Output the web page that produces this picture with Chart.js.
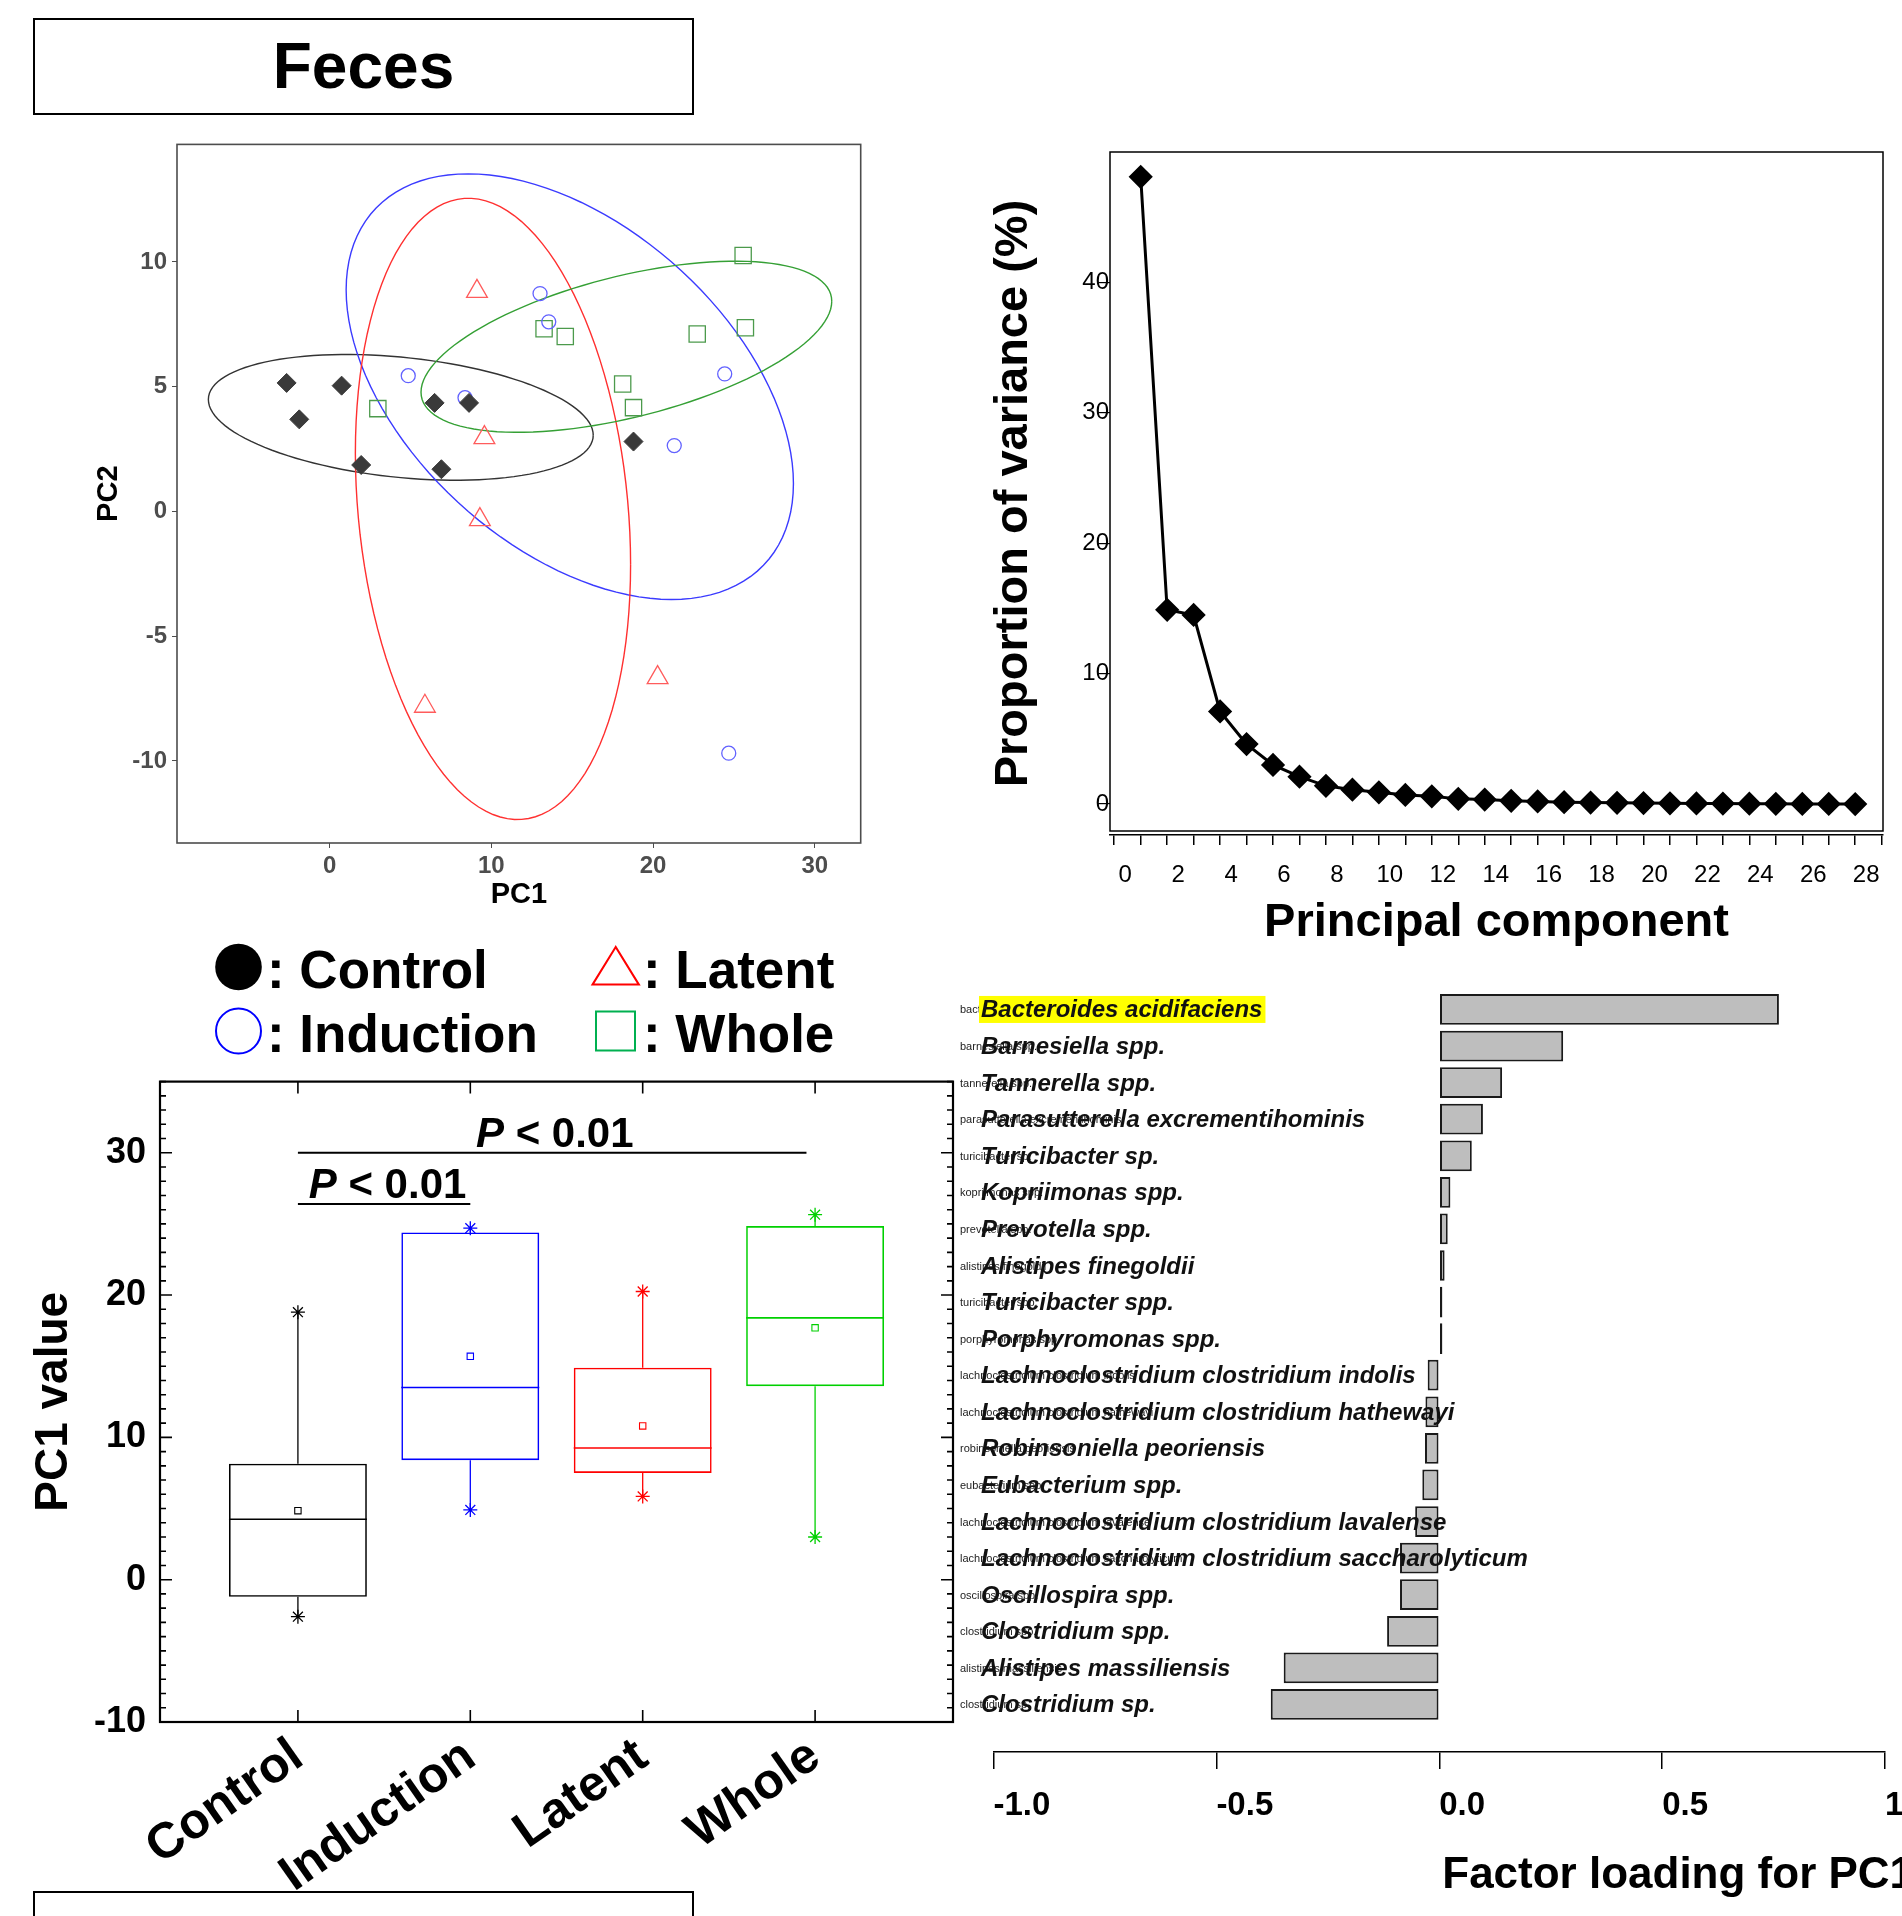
<!DOCTYPE html>
<html>
<head>
<meta charset="utf-8">
<script src="https://cdn.jsdelivr.net/npm/chart.js@4.4.1/dist/chart.umd.min.js"></script>
<style>
html,body{margin:0;padding:0;background:#fff;}
body{width:1902px;height:1916px;overflow:hidden;position:relative;font-family:'Liberation Sans',Arial,sans-serif;}
canvas{position:absolute;}
.frame{position:absolute;border:2px solid #000;box-sizing:border-box;}
</style>
</head>
<body>
<div class="frame" style="left:33px;top:18px;width:661px;height:97px;">
  <div style="font-weight:bold;font-size:64px;text-align:center;line-height:93px;">Feces</div>
</div>
<div class="frame" style="left:33px;top:1891px;width:661px;height:60px;"></div>

<canvas id="pca" width="786" height="791" style="left:88px;top:125px;"></canvas>
<canvas id="scree" width="916" height="816" style="left:982px;top:139px;"></canvas>
<canvas id="box" width="940" height="870" style="left:23px;top:1046px;"></canvas>
<canvas id="load" width="1000" height="938" style="left:955px;top:978px;"></canvas>

<svg style="position:absolute;left:150px;top:930px;" width="720" height="140">
  <g transform="translate(-150,-930)" font-family="'Liberation Sans',Arial,sans-serif" font-weight="bold" font-size="53">
    <circle cx="238.5" cy="967" r="23.3" fill="#000"/>
    <text x="267" y="988">: Control</text>
    <circle cx="238.5" cy="1031" r="22.5" fill="none" stroke="#0000ff" stroke-width="2"/>
    <text x="267" y="1052">: Induction</text>
    <polygon points="615.7,947 592.5,984.6 638.9,984.6" fill="none" stroke="#ff0000" stroke-width="2"/>
    <text x="643" y="988">: Latent</text>
    <rect x="596" y="1011.5" width="39" height="39" fill="none" stroke="#00b050" stroke-width="2"/>
    <text x="643" y="1052">: Whole</text>
  </g>
</svg>

<script>
Chart.defaults.font.family = "'Liberation Sans', Arial, sans-serif";
Chart.defaults.color = '#000';

// ---- PCA score plot
const ctrlX = [-2.66, 0.74, -1.88, 6.49, 8.62, 1.95, 6.91, 18.79];
const ctrlY = [5.15, 5.04, 3.69, 4.35, 4.35, 1.86, 1.69, 2.80];
const indX = [4.86, 13.01, 13.55, 8.37, 24.43, 21.31, 24.68];
const indY = [5.44, 8.73, 7.60, 4.56, 5.51, 2.64, -9.69];
const latX = [9.11, 9.57, 9.29, 5.89, 20.28];
const latY = [8.82, 2.96, -0.33, -7.81, -6.66];
const wholeX = [25.57, 13.26, 14.57, 22.73, 25.71, 18.12, 18.79, 2.98];
const wholeY = [10.26, 7.32, 7.01, 7.11, 7.36, 5.11, 4.16, 4.12];
const pcaXTicks = [0, 10, 20, 30];
const pcaYTicks = [-10, -5, 0, 5, 10];

// 95% ellipses: centre, half width, half height, x-y cross term
const ellCx = [4.4, 14.85, 10.1, 18.35];
const ellCy = [3.77, 5.0, 0.1, 6.6];
const ellW = [11.9, 13.83, 8.51, 12.7];
const ellH = [2.52, 8.53, 12.45, 3.43];
const ellC = [-8.5, -53.7, -19, 23.1];
const ellColors = ['#333333', '#3b3bff', '#ff3030', '#35a035'];

// ---- scree plot
const pcIndex = [1,2,3,4,5,6,7,8,9,10,11,12,13,14,15,16,17,18,19,20,21,22,23,24,25,26,27,28];
const pcVariance = [48.1, 14.9, 14.5, 7.1, 4.6, 3.0, 2.1, 1.4, 1.1, 0.9, 0.7, 0.6, 0.4, 0.35,
                    0.25, 0.2, 0.15, 0.12, 0.1, 0.08, 0.06, 0.05, 0.04, 0.03, 0.02, 0.01, 0.01, 0.0];
const screeYTicks = [0, 10, 20, 30, 40];

// ---- PC1 box plot
const boxGroups = ['Control', 'Induction', 'Latent', 'Whole'];
const boxMin  = [-2.6, 4.9, 5.85, 3.0];
const boxQ1   = [-1.2, 8.4, 7.5, 13.6];
const boxMed  = [4.25, 13.5, 9.25, 18.4];
const boxQ3   = [8.15, 24.4, 14.9, 24.85];
const boxMax  = [18.8, 24.7, 20.25, 25.65];
const boxMean = [4.85, 15.7, 10.8, 17.7];
const boxColors = ['#000000', '#0000ff', '#ff0000', '#00d000'];
const boxYTicks = [-10, 0, 10, 20, 30];
const sigFrom = [0, 0];
const sigTo = [2.95, 1];
const sigY = [30.0, 26.4];
const sigTextX = [1.49, 0.52];

// ---- factor loadings for PC1
const taxaTags = ['bacteroides acidifaciens', 'barnesiella spp.', 'tannerella spp.', 'parasutterella excrementihominis',
  'turicibacter sp.', 'kopriimonas spp.', 'prevotella spp.', 'alistipes finegoldii', 'turicibacter spp.',
  'porphyromonas spp.', 'lachnoclostridium clostridium indolis', 'lachnoclostridium clostridium hathewayi',
  'robinsoniella peoriensis', 'eubacterium spp.', 'lachnoclostridium clostridium lavalense',
  'lachnoclostridium clostridium saccharolyticum', 'oscillospira spp.', 'clostridium spp.',
  'alistipes massiliensis', 'clostridium sp.'];
const taxaNames = ['Bacteroides acidifaciens', 'Barnesiella spp.', 'Tannerella spp.', 'Parasutterella excrementihominis',
  'Turicibacter sp.', 'Kopriimonas spp.', 'Prevotella spp.', 'Alistipes finegoldii', 'Turicibacter spp.',
  'Porphyromonas spp.', 'Lachnoclostridium clostridium indolis', 'Lachnoclostridium clostridium hathewayi',
  'Robinsoniella peoriensis', 'Eubacterium spp.', 'Lachnoclostridium clostridium lavalense',
  'Lachnoclostridium clostridium saccharolyticum', 'Oscillospira spp.', 'Clostridium spp.',
  'Alistipes massiliensis', 'Clostridium sp.'];
const loadings = [0.762, 0.278, 0.141, 0.098, 0.073, 0.025, 0.019, 0.012, 0.007, 0.007,
                  -0.026, -0.031, -0.032, -0.038, -0.054, -0.088, -0.088, -0.117, -0.349, -0.378];
const highlightTaxon = 'Bacteroides acidifaciens';
const loadTicks = [-1, -0.5, 0, 0.5, 1];

const FONT = "'Liberation Sans', Arial, sans-serif";
const pts = (xs, ys) => xs.map((x, i) => ({x: x, y: ys[i]}));
const setTicks = vals => s => { s.ticks = vals.map(v => ({value: v})); };
const base = {responsive: false, animation: false, events: [],
  plugins: {legend: {display: false}, tooltip: {enabled: false}}};

// ---------- PCA scatter
const pcaDecor = {
  id: 'pcaDecor',
  beforeDatasetsDraw(chart) {
    const {ctx, chartArea: a, scales: {x, y}} = chart;
    ctx.save();
    ctx.beginPath(); ctx.rect(a.left, a.top, a.right - a.left, a.bottom - a.top); ctx.clip();
    ctx.lineWidth = 1.4;
    ellCx.forEach((cx, k) => {
      const r = ellC[k] / ellW[k];
      const s = Math.sqrt(ellH[k] * ellH[k] - r * r);
      ctx.strokeStyle = ellColors[k];
      ctx.beginPath();
      for (let j = 0; j <= 120; j++) {
        const t = j / 120 * Math.PI * 2;
        const px = x.getPixelForValue(cx + ellW[k] * Math.cos(t));
        const py = y.getPixelForValue(ellCy[k] + r * Math.cos(t) + s * Math.sin(t));
        j ? ctx.lineTo(px, py) : ctx.moveTo(px, py);
      }
      ctx.stroke();
    });
    ctx.restore();
  },
  afterDraw(chart) {
    const {ctx, chartArea: a} = chart;
    ctx.save();
    ctx.strokeStyle = '#4d4d4d'; ctx.lineWidth = 1.6;
    ctx.strokeRect(a.left, a.top, a.right - a.left, a.bottom - a.top);
    ctx.restore();
  }
};

new Chart(document.getElementById('pca'), {
  type: 'scatter',
  data: {datasets: [
    {label: 'Control', data: pts(ctrlX, ctrlY), pointStyle: 'rectRot', pointRadius: 9.5,
     backgroundColor: '#3a3a3a', borderColor: '#3a3a3a', borderWidth: 1},
    {label: 'Induction', data: pts(indX, indY), pointStyle: 'circle', pointRadius: 7,
     backgroundColor: 'rgba(0,0,0,0)', borderColor: '#6262ff', borderWidth: 1.3},
    {label: 'Latent', data: pts(latX, latY), pointStyle: 'triangle', pointRadius: 12,
     backgroundColor: 'rgba(0,0,0,0)', borderColor: '#ff5c5c', borderWidth: 1.3},
    {label: 'Whole', data: pts(wholeX, wholeY), pointStyle: 'rect', pointRadius: 11.5,
     backgroundColor: 'rgba(0,0,0,0)', borderColor: '#4c9a4c', borderWidth: 1.3}
  ]},
  options: Object.assign({}, base, {
    layout: {padding: {top: 0, right: 10, left: 0, bottom: 0}},
    scales: {
      x: {type: 'linear', min: -9.44, max: 32.84, afterBuildTicks: setTicks(pcaXTicks),
          afterFit: s => { s.height = 73; },
          ticks: {font: {size: 24, weight: 'bold'}, color: '#4d4d4d', padding: 4},
          grid: {drawOnChartArea: false, tickLength: 5, color: '#4d4d4d'}, border: {display: false},
          title: {display: true, text: 'PC1', font: {size: 29, weight: 'bold'}, color: '#000'}},
      y: {type: 'linear', min: -13.29, max: 14.71, afterBuildTicks: setTicks(pcaYTicks),
          afterFit: s => { s.width = 89; },
          ticks: {font: {size: 24, weight: 'bold'}, color: '#4d4d4d', padding: 5},
          grid: {drawOnChartArea: false, tickLength: 5, color: '#4d4d4d'}, border: {display: false},
          title: {display: true, text: 'PC2', font: {size: 29, weight: 'bold'}, color: '#000'}}
    }
  }),
  plugins: [pcaDecor]
});

// ---------- scree plot
const screeFrame = {
  id: 'screeFrame',
  afterDraw(chart) {
    const {ctx, chartArea: a} = chart;
    ctx.save();
    ctx.strokeStyle = '#000'; ctx.lineWidth = 1.5;
    ctx.strokeRect(a.left, a.top, a.right - a.left, a.bottom - 4 - a.top);
    ctx.restore();
  }
};

new Chart(document.getElementById('scree'), {
  type: 'line',
  data: {datasets: [{data: pts(pcIndex, pcVariance), borderColor: '#000', borderWidth: 3,
    pointStyle: 'rectRot', pointRadius: 10, pointBackgroundColor: '#000', pointBorderColor: '#000',
    tension: 0}]},
  options: Object.assign({}, base, {
    layout: {padding: {top: 11, right: 15, left: 0, bottom: 0}},
    scales: {
      x: {type: 'linear', min: -0.16, max: 29.05,
          afterBuildTicks: s => { s.ticks = Array.from({length: 30}, (_, i) => ({value: i})); },
          afterFit: s => { s.height = 120; },
          ticks: {autoSkip: false, maxRotation: 0, font: {size: 24}, color: '#000', padding: 16, labelOffset: 11,
                  callback: v => (v % 2 === 0 && v <= 28) ? String(v) : ''},
          grid: {drawOnChartArea: false, tickLength: 10, color: '#000', lineWidth: 1.5},
          border: {display: true, color: '#000', width: 1.5},
          title: {display: true, text: 'Principal component', font: {size: 47, weight: 'bold'}, color: '#000'}},
      y: {type: 'linear', min: -2.37, max: 50, afterBuildTicks: setTicks(screeYTicks),
          afterFit: s => { s.width = 128; },
          ticks: {font: {size: 24}, color: '#000', padding: -11},
          grid: {display: true, drawOnChartArea: false, drawTicks: true, tickLength: 12, color: '#000', lineWidth: 1.2},
          border: {display: false},
          title: {display: true, text: 'Proportion of variance (%)', font: {size: 47, weight: 'bold'}, color: '#000'}}
    }
  }),
  plugins: [screeFrame]
});

// ---------- PC1 box plot
const halfBox = chart => {
  const xs = chart.scales.x;
  if (!xs) return 69;
  return 0.4 * Math.abs(xs.getPixelForValue(1) - xs.getPixelForValue(0));
};

const boxDecor = {
  id: 'boxDecor',
  afterDraw(chart) {
    const {ctx, chartArea: a, scales: {x, y}} = chart;
    ctx.save();
    ctx.strokeStyle = '#000';
    ctx.lineWidth = 1.6;
    ctx.beginPath();
    for (let v = -10; v <= 35; v++) {
      const py = y.getPixelForValue(v);
      const len = v % 10 === 0 ? 12 : 6;
      ctx.moveTo(a.left, py); ctx.lineTo(a.left + len, py);
      ctx.moveTo(a.right, py); ctx.lineTo(a.right - len, py);
    }
    boxGroups.forEach((g, i) => {
      const px = x.getPixelForValue(i);
      ctx.moveTo(px, a.top); ctx.lineTo(px, a.top + 12);
      ctx.moveTo(px, a.bottom); ctx.lineTo(px, a.bottom - 12);
    });
    ctx.stroke();
    ctx.lineWidth = 2.2;
    ctx.strokeRect(a.left, a.top, a.right - a.left, a.bottom - a.top);
    // significance brackets
    ctx.lineWidth = 2;
    sigY.forEach((sy, k) => {
      const py = y.getPixelForValue(sy);
      ctx.beginPath();
      ctx.moveTo(x.getPixelForValue(sigFrom[k]), py);
      ctx.lineTo(x.getPixelForValue(sigTo[k]), py);
      ctx.stroke();
      const fP = 'italic bold 42px ' + FONT, fR = 'bold 42px ' + FONT;
      ctx.font = fP; const wP = ctx.measureText('P').width;
      ctx.font = fR; const wR = ctx.measureText(' < 0.01').width;
      const x0 = x.getPixelForValue(sigTextX[k]) - (wP + wR) / 2;
      ctx.fillStyle = '#000'; ctx.textBaseline = 'alphabetic'; ctx.textAlign = 'left';
      ctx.font = fP; ctx.fillText('P', x0, py - 6);
      ctx.font = fR; ctx.fillText(' < 0.01', x0 + wP, py - 6);
    });
    ctx.restore();
  }
};

const boxDatasets = [
  {type: 'bar', data: boxGroups.map((g, i) => ({x: i, y: [boxQ1[i], boxQ3[i]]})),
   backgroundColor: 'rgba(0,0,0,0)', borderColor: boxColors, borderWidth: 1.6, borderSkipped: false,
   barPercentage: 0.8, categoryPercentage: 1},
  {type: 'scatter', data: boxGroups.map((g, i) => ({x: i, y: boxMed[i]})), pointStyle: 'line',
   pointRadius: c => halfBox(c.chart), pointBorderColor: boxColors, borderColor: boxColors, pointBorderWidth: 1.6},
  {type: 'scatter', data: boxGroups.flatMap((g, i) => [{x: i, y: boxMin[i]}, {x: i, y: boxMax[i]}]),
   pointStyle: 'star', pointRadius: 7, pointBorderWidth: 1.3,
   pointBorderColor: boxColors.flatMap(c => [c, c]), borderColor: boxColors.flatMap(c => [c, c])},
  {type: 'scatter', data: boxGroups.map((g, i) => ({x: i, y: boxMean[i]})), pointStyle: 'rect',
   pointRadius: 4.5, pointBorderWidth: 1.1, pointBackgroundColor: 'rgba(0,0,0,0)',
   pointBorderColor: boxColors, borderColor: boxColors}
].concat(boxGroups.map((g, i) => ({
  type: 'line', data: [{x: i, y: boxMin[i]}, {x: i, y: boxQ1[i]}, {x: i, y: null}, {x: i, y: boxQ3[i]}, {x: i, y: boxMax[i]}],
  borderColor: boxColors[i], borderWidth: 1.3, pointRadius: 0, spanGaps: false
})));

new Chart(document.getElementById('box'), {
  type: 'bar',
  data: {datasets: boxDatasets},
  options: Object.assign({}, base, {
    layout: {padding: {top: 0, right: 10, left: 0, bottom: 0}},
    scales: {
      x: {type: 'linear', offset: false, min: -0.8, max: 3.8, afterBuildTicks: setTicks([0, 1, 2, 3]),
          afterFit: s => { s.height = 194; },
          ticks: {font: {size: 50, weight: 'bold'}, color: '#000', minRotation: 35, maxRotation: 35,
                  autoSkip: false, padding: 5, callback: v => boxGroups[v]},
          grid: {display: false, drawTicks: false, offset: false}, border: {display: false}},
      y: {type: 'linear', min: -10, max: 35, afterBuildTicks: setTicks(boxYTicks),
          afterFit: s => { s.width = 137; },
          ticks: {font: {size: 36, weight: 'bold'}, color: '#000', padding: 14},
          grid: {display: false, drawTicks: false}, border: {display: false},
          title: {display: true, text: 'PC1 value', font: {size: 46, weight: 'bold'}, color: '#000'}}
    }
  }),
  plugins: [boxDecor]
});

// ---------- factor loading bars
const taxaLabels = {
  id: 'taxaLabels',
  afterDraw(chart) {
    const {ctx, chartArea: a, scales: {x, y}} = chart;
    ctx.save();
    ctx.textAlign = 'left';
    ctx.textBaseline = 'alphabetic';
    ctx.fillStyle = '#222';
    ctx.font = '11px ' + FONT;
    taxaTags.forEach((t, i) => ctx.fillText(t, a.left - 33.5, y.getPixelForValue(i) + 4));
    ctx.font = 'italic bold 24px ' + FONT;
    taxaNames.forEach((t, i) => {
      const py = y.getPixelForValue(i);
      if (t === highlightTaxon) {
        ctx.fillStyle = '#ffff00';
        ctx.fillRect(a.left - 14.5, py - 13.5, ctx.measureText(t).width + 5, 27);
      }
      ctx.fillStyle = '#111';
      ctx.fillText(t, a.left - 12.5, py + 8);
    });
    ctx.fillStyle = '#000';
    ctx.font = 'bold 44px ' + FONT;
    ctx.fillText('Factor loading for PC1', x.getPixelForValue(0) + 3, a.bottom + 136);
    ctx.restore();
  }
};

new Chart(document.getElementById('load'), {
  type: 'bar',
  data: {datasets: [{data: loadings.map((v, i) => ({x: v, y: i})), backgroundColor: '#bebebe',
    borderColor: '#1a1a1a', borderWidth: 2, borderSkipped: false, barPercentage: 0.84, categoryPercentage: 1}]},
  options: Object.assign({}, base, {
    indexAxis: 'y',
    layout: {padding: {top: 9.5, right: 70, left: 38.5, bottom: 0}},
    scales: {
      y: {type: 'linear', reverse: true, offset: false, min: -0.6, max: 20.3, display: false,
          afterBuildTicks: setTicks(taxaNames.map((t, i) => i)), grid: {offset: false}},
      x: {type: 'linear', min: -1, max: 1, afterBuildTicks: setTicks(loadTicks),
          afterFit: s => { s.height = 164; },
          ticks: {align: 'start', font: {size: 33, weight: 'bold'}, color: '#000', padding: 17,
                  callback: v => v.toFixed(1)},
          grid: {drawOnChartArea: false, tickLength: 17, color: '#000', lineWidth: 1.5},
          border: {display: true, color: '#000', width: 1.5}}
    }
  }),
  plugins: [taxaLabels]
});
</script>
</body>
</html>
